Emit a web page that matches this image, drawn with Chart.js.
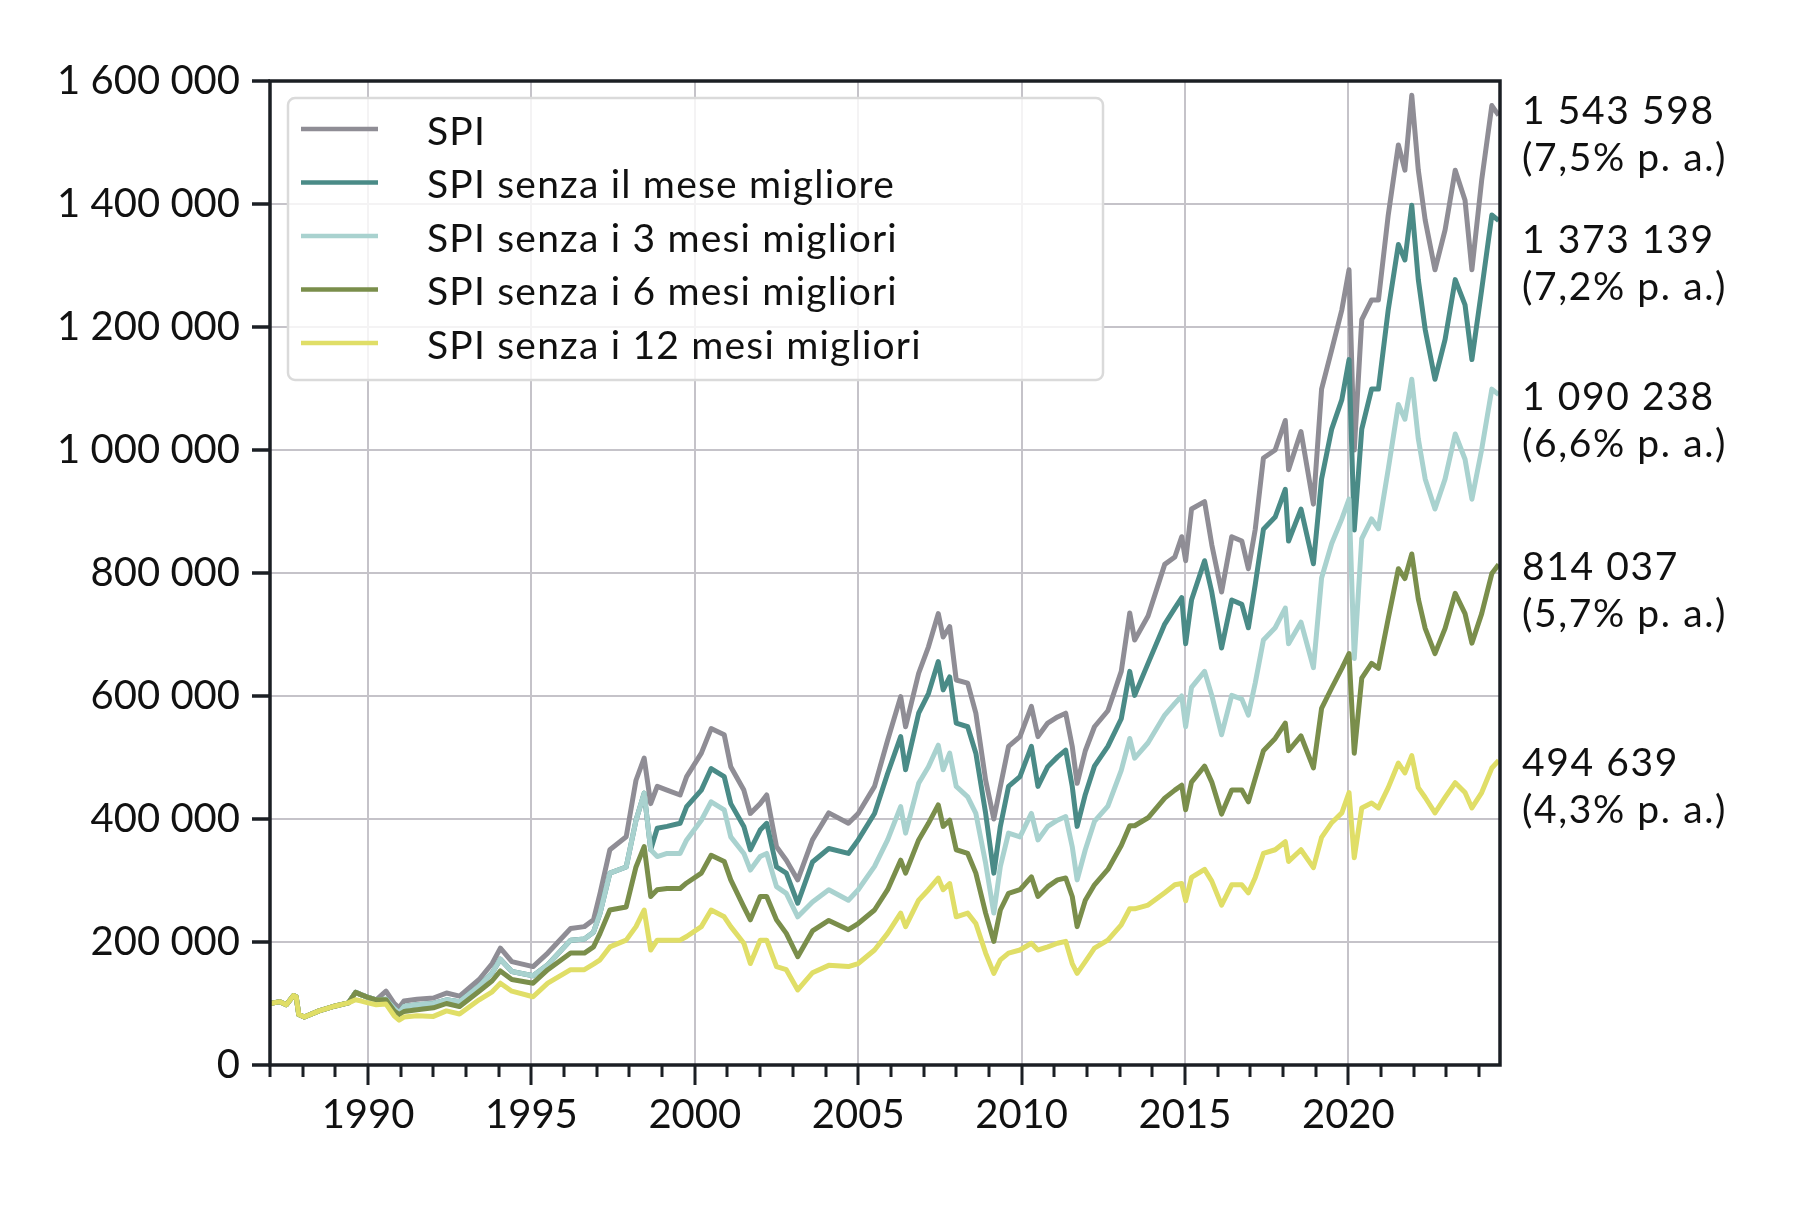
<!DOCTYPE html>
<html lang="it">
<head>
<meta charset="utf-8">
<title>SPI senza i mesi migliori</title>
<script src="https://cdn.jsdelivr.net/npm/chart.js@4.4.1/dist/chart.umd.min.js"></script>
<style>
  html, body { margin: 0; padding: 0; background: #ffffff; }
  #wrap { width: 1809px; height: 1217px; }
</style>
</head>
<body>
<div id="wrap"><canvas id="chart-spi" width="1809" height="1217"></canvas></div>
<script>
/* ==========================================================================
   SPI con e senza i mesi migliori - valori in migliaia di CHF
   ========================================================================== */

const UNIT = 1000;

const anni = [
  1987.00, 1987.30, 1987.50, 1987.72, 1987.80, 1987.88, 1988.05, 1988.50, 1989.00, 1989.40,
  1989.62, 1989.80, 1990.00, 1990.25, 1990.55, 1990.80, 1990.95, 1991.10, 1991.50, 1992.00,
  1992.40, 1992.80, 1993.40, 1993.80, 1994.05, 1994.40, 1995.05, 1995.50, 1996.20, 1996.62,
  1996.90, 1997.10, 1997.40, 1997.90, 1998.20, 1998.45, 1998.65, 1998.85, 1999.15, 1999.55,
  1999.75, 2000.20, 2000.50, 2000.90, 2001.10, 2001.50, 2001.70, 2002.00, 2002.20, 2002.50,
  2002.80, 2003.15, 2003.60, 2004.10, 2004.70, 2005.00, 2005.50, 2005.90, 2006.30, 2006.45,
  2006.85, 2007.15, 2007.45, 2007.60, 2007.80, 2008.00, 2008.35, 2008.60, 2008.90, 2009.15,
  2009.35, 2009.60, 2009.95, 2010.30, 2010.50, 2010.80, 2011.10, 2011.35, 2011.55, 2011.70,
  2011.95, 2012.23, 2012.64, 2013.05, 2013.31, 2013.46, 2013.87, 2014.38, 2014.69, 2014.90,
  2015.02, 2015.20, 2015.60, 2015.82, 2016.12, 2016.43, 2016.74, 2016.94, 2017.15, 2017.40,
  2017.76, 2018.07, 2018.17, 2018.55, 2018.93, 2019.18, 2019.49, 2019.80, 2020.02, 2020.18,
  2020.41, 2020.71, 2020.92, 2021.22, 2021.53, 2021.73, 2021.94, 2022.14, 2022.35, 2022.65,
  2022.96, 2023.27, 2023.57, 2023.78, 2024.08, 2024.39, 2024.60
];

const spi = [
  100, 103, 98, 113, 111, 82, 78, 88, 96, 101,
  118, 114, 110, 106, 120, 100, 93, 104, 107, 109,
  117, 112, 139, 165, 190, 168, 160, 182, 222, 225,
  236, 279, 350, 371, 463, 499, 425, 453, 447, 439,
  469, 507, 547, 537, 485, 447, 409, 425, 439, 355,
  333, 301, 366, 410, 393, 409, 453, 528, 599, 550,
  637, 680, 734, 696, 713, 626, 621, 572, 463, 400,
  453, 518, 534, 583, 534, 556, 566, 572, 518, 458,
  511, 550, 576, 640, 735, 691, 730, 814, 826, 859,
  820, 904, 916, 846, 769, 859, 852, 807, 871, 987,
  1000, 1048, 968, 1030, 912, 1099, 1163, 1228, 1293, 1000,
  1212, 1244, 1244, 1382, 1496, 1455, 1577, 1455, 1374, 1293,
  1358, 1455, 1406, 1293, 1439, 1560, 1544
];

const senzaMese1 = [
  100, 103, 98, 113, 111, 82, 78, 88, 96, 101,
  118, 114, 110, 106, 107, 92, 85, 95, 98, 100,
  106, 103, 128, 150, 172, 152, 145, 163, 203, 205,
  216, 247, 312, 322, 398, 442, 350, 385, 388, 393,
  420, 447, 482, 469, 425, 388, 350, 382, 393, 322,
  312, 263, 330, 352, 344, 366, 409, 474, 534, 480,
  572, 604, 656, 610, 631, 556, 550, 507, 409, 312,
  388, 453, 469, 518, 453, 485, 501, 512, 453, 388,
  440, 486, 518, 563, 640, 601, 653, 717, 743, 760,
  685, 756, 820, 769, 678, 756, 749, 711, 781, 871,
  891, 936, 852, 904, 815, 953, 1034, 1082, 1147, 870,
  1034, 1099, 1099, 1228, 1334, 1309, 1398, 1277, 1196, 1115,
  1180, 1277, 1236, 1147, 1261, 1382, 1373
];

const senzaMesi3 = [
  100, 103, 98, 113, 111, 82, 78, 88, 96, 101,
  118, 114, 110, 106, 107, 92, 85, 95, 98, 100,
  106, 103, 128, 150, 172, 152, 145, 163, 203, 205,
  216, 247, 312, 322, 398, 442, 350, 339, 344, 344,
  366, 398, 428, 415, 371, 344, 317, 339, 344, 290,
  279, 241, 265, 285, 268, 285, 323, 366, 420, 377,
  458, 485, 520, 480, 507, 453, 436, 409, 328, 247,
  323, 377, 371, 409, 366, 388, 398, 404, 355, 301,
  350, 396, 421, 479, 531, 499, 524, 569, 588, 600,
  550, 614, 640, 601, 537, 601, 595, 569, 621, 691,
  711, 743, 685, 720, 646, 792, 848, 888, 920, 661,
  856, 888, 872, 969, 1074, 1050, 1115, 1018, 953, 904,
  953, 1026, 985, 920, 1001, 1099, 1090
];

const senzaMesi6 = [
  100, 103, 98, 113, 111, 82, 78, 88, 96, 101,
  118, 114, 110, 106, 106, 88, 82, 87, 90, 93,
  100, 95, 120, 137, 153, 139, 133, 155, 182, 182,
  192, 214, 252, 257, 322, 355, 274, 285, 287, 287,
  296, 312, 341, 331, 301, 257, 236, 274, 274, 236,
  214, 176, 218, 235, 220, 230, 252, 285, 333, 312,
  366, 393, 423, 388, 398, 350, 344, 312, 247, 201,
  252, 279, 285, 306, 274, 290, 301, 304, 274, 225,
  268, 293, 318, 357, 389, 389, 402, 434, 447, 455,
  415, 460, 486, 460, 408, 447, 447, 428, 466, 511,
  531, 556, 511, 535, 483, 580, 613, 645, 669, 507,
  629, 653, 645, 726, 807, 791, 831, 758, 710, 669,
  710, 767, 734, 686, 734, 799, 814
];

const senzaMesi12 = [
  100, 103, 98, 113, 111, 82, 78, 88, 96, 101,
  106, 104, 101, 98, 99, 80, 73, 78, 80, 79,
  88, 83, 106, 119, 133, 120, 111, 133, 155, 155,
  164, 171, 192, 203, 225, 252, 187, 203, 203, 203,
  209, 225, 252, 241, 225, 198, 165, 203, 203, 160,
  155, 122, 150, 162, 160, 165, 187, 214, 247, 225,
  268, 285, 304, 285, 295, 241, 247, 230, 182, 149,
  171, 182, 187, 198, 187, 192, 198, 201, 165, 149,
  168, 190, 203, 228, 254, 254, 260, 280, 293, 295,
  267, 305, 318, 299, 260, 293, 293, 280, 305, 344,
  350, 363, 331, 350, 321, 370, 394, 410, 443, 337,
  418, 426, 418, 451, 491, 475, 503, 451, 435, 410,
  435, 459, 443, 418, 443, 483, 495
];

const etichette = [
  "SPI",
  "SPI senza il mese migliore",
  "SPI senza i 3 mesi migliori",
  "SPI senza i 6 mesi migliori",
  "SPI senza i 12 mesi migliori"
];
const valoriFinali = [1543598, 1373139, 1090238, 814037, 494639];
const rendimenti = ["7,5", "7,2", "6,6", "5,7", "4,3"];
const serie = [spi, senzaMese1, senzaMesi3, senzaMesi6, senzaMesi12];

const yTicks = { min: 0, max: 1600000, step: 200000 };
const xRange = { min: 1987, max: 2024.64 };

const COLORS = {
  lines: ["#8f8d95", "#4a8b87", "#a9d2cf", "#7a8e4b", "#e0de67"],
  grid: "#c5c3c9",
  axis: "#1b1f24",
  text: "#111111"
};
const FONT = "Lato, 'Open Sans', sans-serif";
const TICK_SIZE = 40;
const LABEL_SIZE = 39;

/** Separatore delle migliaia con spazio: 1600000 -> "1 600 000". */
function formatNumber(v) {
  return String(Math.round(v)).replace(/\B(?=(\d{3})+(?!\d))/g, " ");
}

/** Cornice nera del grafico e tacche (annuali sull'asse x, principali ogni 5 anni). */
const framePlugin = {
  id: "frame",
  afterDatasetsDraw(chart) {
    const { ctx, chartArea: a, scales } = chart;
    ctx.save();
    ctx.strokeStyle = COLORS.axis;
    ctx.lineWidth = 3.5;
    ctx.strokeRect(a.left, a.top, a.right - a.left, a.bottom - a.top);

    ctx.beginPath();
    scales.y.ticks.forEach((t) => {
      const py = Math.round(scales.y.getPixelForValue(t.value));
      ctx.moveTo(a.left - 18, py);
      ctx.lineTo(a.left, py);
    });
    ctx.stroke();

    ctx.lineWidth = 3;
    ctx.beginPath();
    scales.x.ticks.forEach((t) => {
      const px = Math.round(scales.x.getPixelForValue(t.value));
      const len = t.value % 5 === 0 ? 20 : 12;
      ctx.moveTo(px, a.bottom);
      ctx.lineTo(px, a.bottom + len);
    });
    ctx.stroke();
    ctx.restore();
  }
};

/** Legenda dentro l'area del grafico, in alto a sinistra, con sfondo semitrasparente. */
const legendPlugin = {
  id: "innerLegend",
  afterDraw(chart) {
    const { ctx, chartArea: a } = chart;
    const boxX = a.left + 18;
    const boxY = a.top + 17;
    const boxW = 815;
    const boxH = 282;
    const rowH = 53.5;

    ctx.save();
    ctx.beginPath();
    ctx.roundRect(boxX, boxY, boxW, boxH, 7);
    ctx.fillStyle = "rgba(255,255,255,0.8)";
    ctx.fill();
    ctx.strokeStyle = "#dadada";
    ctx.lineWidth = 2.5;
    ctx.stroke();

    ctx.font = `${LABEL_SIZE}px ${FONT}`;
    ctx.letterSpacing = "1.2px";
    ctx.textBaseline = "middle";
    ctx.textAlign = "left";
    etichette.forEach((label, i) => {
      const cy = boxY + 33 + i * rowH;
      ctx.strokeStyle = COLORS.lines[i];
      ctx.lineWidth = 4.5;
      ctx.beginPath();
      ctx.moveTo(boxX + 13, cy - 2);
      ctx.lineTo(boxX + 90, cy - 2);
      ctx.stroke();
      ctx.fillStyle = COLORS.text;
      ctx.fillText(label, boxX + 139, cy + 1);
    });
    ctx.restore();
  }
};

/** Valori finali e rendimento annuo a destra, vicino all'ultimo valore, senza sovrapposizioni. */
const endLabelsPlugin = {
  id: "endLabels",
  afterDraw(chart) {
    const { ctx, chartArea: a, scales } = chart;
    const lineGap = 47;
    const minGap = 129;
    const pos = valoriFinali.map((v) => scales.y.getPixelForValue(v));
    // separa simmetricamente le etichette troppo vicine
    for (let k = 0; k < 5; k++) {
      for (let i = 1; i < pos.length; i++) {
        const d = pos[i] - pos[i - 1];
        if (d < minGap) {
          const shift = (minGap - d) / 2;
          pos[i - 1] -= shift;
          pos[i] += shift;
        }
      }
    }
    // la prima etichetta non sale oltre il bordo superiore
    pos[0] = Math.max(pos[0], a.top + 27);
    for (let i = 1; i < pos.length; i++) {
      pos[i] = Math.max(pos[i], pos[i - 1] + minGap);
    }
    ctx.save();
    ctx.font = `${LABEL_SIZE}px ${FONT}`;
    ctx.letterSpacing = "1.6px";
    ctx.fillStyle = COLORS.text;
    ctx.textBaseline = "middle";
    ctx.textAlign = "left";
    valoriFinali.forEach((v, i) => {
      const y = pos[i] + 3;
      ctx.fillText(formatNumber(v), a.right + 22, y);
      ctx.fillText(`(${rendimenti[i]}% p. a.)`, a.right + 22, y + lineGap);
    });
    ctx.restore();
  }
};

function initChart() {
  const ctx = document.getElementById("chart-spi").getContext("2d");

  const datasets = serie.map((valori, i) => ({
    label: etichette[i],
    data: anni.map((x, j) => ({ x, y: valori[j] * UNIT })),
    borderColor: COLORS.lines[i],
    backgroundColor: COLORS.lines[i],
    borderWidth: 5,
    pointRadius: 0,
    tension: 0,
    borderJoinStyle: "round",
    // la prima serie va disegnata sotto, l'ultima sopra
    order: serie.length - i
  }));

  return new Chart(ctx, {
    type: "line",
    data: { datasets },
    options: {
      responsive: false,
      animation: false,
      devicePixelRatio: 1,
      layout: { padding: { top: 81, right: 309, bottom: 0, left: 0 } },
      plugins: {
        legend: { display: false },
        tooltip: { enabled: false }
      },
      scales: {
        x: {
          type: "linear",
          min: xRange.min,
          max: xRange.max,
          afterFit: (scale) => {
            scale.height = 152;
          },
          border: { display: false },
          grid: {
            color: (c) => (c.tick && c.tick.value % 5 === 0 ? COLORS.grid : "rgba(0,0,0,0)"),
            lineWidth: 2,
            drawTicks: false
          },
          ticks: {
            stepSize: 1,
            includeBounds: false,
            autoSkip: false,
            maxRotation: 0,
            padding: 26,
            color: COLORS.text,
            font: { family: FONT, size: TICK_SIZE },
            callback: (v) => (v % 5 === 0 ? String(v) : "")
          }
        },
        y: {
          min: yTicks.min,
          max: yTicks.max,
          afterFit: (scale) => {
            scale.width = 270;
          },
          border: { display: false },
          grid: { color: COLORS.grid, lineWidth: 2, drawTicks: false },
          ticks: {
            stepSize: yTicks.step,
            padding: 30,
            color: COLORS.text,
            font: { family: FONT, size: TICK_SIZE },
            callback: (v) => formatNumber(v)
          }
        }
      }
    },
    plugins: [framePlugin, legendPlugin, endLabelsPlugin]
  });
}

initChart();
</script>
</body>
</html>
